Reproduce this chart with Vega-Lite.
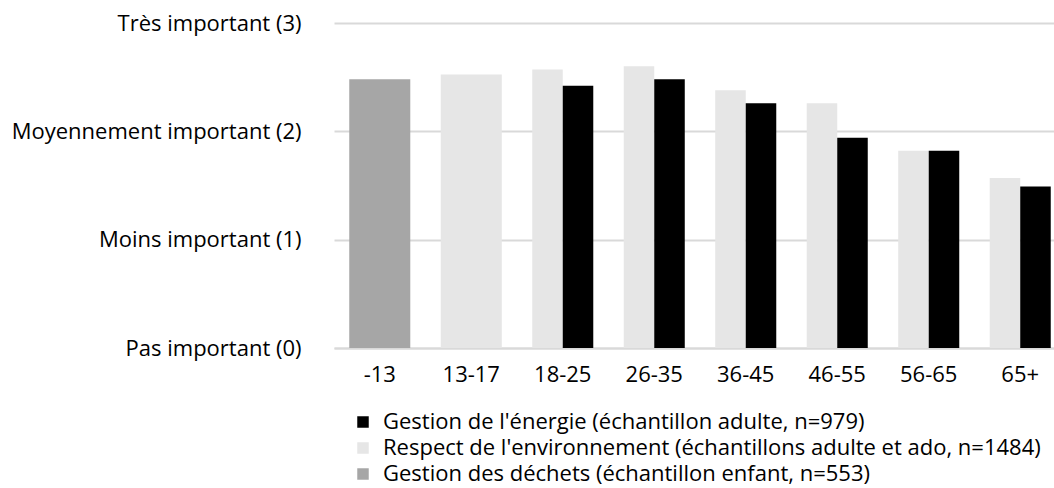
{
  "$schema": "https://vega.github.io/schema/vega-lite/v6.json",
  "autosize": {"type": "none"},
  "padding": {"left": 334, "top": 23, "right": 0, "bottom": 140},
  "width": 732,
  "height": 325,
  "background": "white",
  "config": {
    "view": {"stroke": null},
    "font": "Open Sans",
    "axis": {"labelFont": "Open Sans", "labelFontSize": 22, "labelColor": "#000000", "ticks": false, "title": null, "labelLimit": 0},
    "legend": {"labelFont": "Open Sans", "labelFontSize": 22, "labelColor": "#000000", "labelLimit": 0}
  },
  "data": {
    "values": [
      {"category": "-13", "series": "Gestion des déchets (échantillon enfant, n=553)", "value": 2.48},
      {"category": "13-17", "series": "Respect de l'environnement (échantillons adulte et ado, n=1484)", "value": 2.525},
      {"category": "18-25", "series": "Respect de l'environnement (échantillons adulte et ado, n=1484)", "value": 2.57},
      {"category": "18-25", "series": "Gestion de l'énergie (échantillon adulte, n=979)", "value": 2.42},
      {"category": "26-35", "series": "Respect de l'environnement (échantillons adulte et ado, n=1484)", "value": 2.60},
      {"category": "26-35", "series": "Gestion de l'énergie (échantillon adulte, n=979)", "value": 2.48},
      {"category": "36-45", "series": "Respect de l'environnement (échantillons adulte et ado, n=1484)", "value": 2.38},
      {"category": "36-45", "series": "Gestion de l'énergie (échantillon adulte, n=979)", "value": 2.26},
      {"category": "46-55", "series": "Respect de l'environnement (échantillons adulte et ado, n=1484)", "value": 2.26},
      {"category": "46-55", "series": "Gestion de l'énergie (échantillon adulte, n=979)", "value": 1.94},
      {"category": "56-65", "series": "Respect de l'environnement (échantillons adulte et ado, n=1484)", "value": 1.82},
      {"category": "56-65", "series": "Gestion de l'énergie (échantillon adulte, n=979)", "value": 1.82},
      {"category": "65+", "series": "Respect de l'environnement (échantillons adulte et ado, n=1484)", "value": 1.57},
      {"category": "65+", "series": "Gestion de l'énergie (échantillon adulte, n=979)", "value": 1.49}
    ]
  },
  "encoding": {
    "x": {
      "field": "category",
      "type": "nominal",
      "sort": ["-13", "13-17", "18-25", "26-35", "36-45", "46-55", "56-65", "65+"],
      "scale": {"paddingInner": 0.333, "paddingOuter": 0.1667},
      "axis": {"labelAngle": 0, "labelPadding": 16, "domain": true, "domainColor": "#d9d9d9", "domainWidth": 2}
    },
    "y": {
      "field": "value",
      "type": "quantitative",
      "scale": {"domain": [0, 3]},
      "axis": {
        "values": [0, 1, 2, 3],
        "domain": false,
        "grid": true,
        "gridColor": "#d9d9d9",
        "gridWidth": 2,
        "labelPadding": 33,
        "labelExpr": "datum.value == 3 ? 'Très important (3)' : datum.value == 2 ? 'Moyennement important (2)' : datum.value == 1 ? 'Moins important (1)' : 'Pas important (0)'"
      }
    },
    "color": {
      "field": "series",
      "type": "nominal",
      "scale": {
        "domain": ["Gestion de l'énergie (échantillon adulte, n=979)", "Respect de l'environnement (échantillons adulte et ado, n=1484)", "Gestion des déchets (échantillon enfant, n=553)"],
        "range": ["#000000", "#e6e6e6", "#a6a6a6"]
      },
      "legend": {
        "title": null,
        "orient": "none",
        "legendX": 18,
        "legendY": 388,
        "symbolType": "square",
        "symbolSize": 132,
        "symbolStrokeWidth": 0,
        "rowPadding": 4,
        "labelOffset": 9
      }
    }
  },
  "layer": [
    {
      "transform": [{"filter": "datum.category == '-13' || datum.category == '13-17'"}],
      "mark": {"type": "bar"}
    },
    {
      "transform": [{"filter": "datum.category != '-13' && datum.category != '13-17'"}],
      "mark": {"type": "bar"},
      "encoding": {
        "xOffset": {
          "field": "series",
          "type": "nominal",
          "scale": {"domain": ["Respect de l'environnement (échantillons adulte et ado, n=1484)", "Gestion de l'énergie (échantillon adulte, n=979)"], "paddingInner": 0, "paddingOuter": 0}
        }
      }
    }
  ]
}
